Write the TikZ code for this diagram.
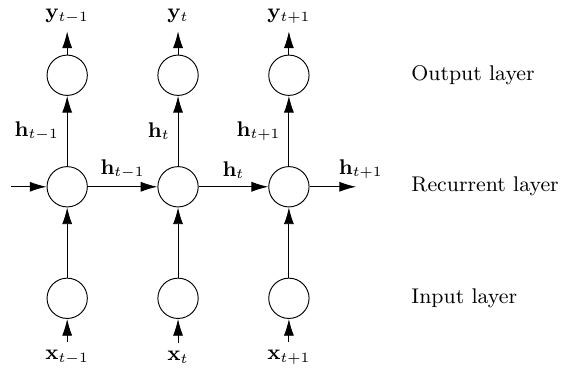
\documentclass[tikz,border=0pt]{standalone}
\usepackage{tikz}
\usetikzlibrary{arrows.meta,positioning}
\usepackage{amsmath}

\begin{document}
\begin{tikzpicture}[
  every node/.style={font=\small},
  unit/.style={draw,circle,minimum size=0.6cm,inner sep=0pt},
  conn/.style={-{Latex[length=2.5mm,width=1.5mm]}},
  layer/.style={anchor=west},
]
  \useasboundingbox (0,0) rectangle (8.35,5.57);

  % input layer
  \node[unit] (in1) at (1.0,1.13) {};
  \node[unit] (in2) at (2.65,1.13) {};
  \node[unit] (in3) at (4.3,1.13) {};
  \node (x1) at (1.0,0.25) {$\mathbf{x}_{t-1}$};
  \node (x2) at (2.65,0.25) {$\mathbf{x}_{t}$};
  \node (x3) at (4.3,0.25) {$\mathbf{x}_{t+1}$};

  % recurrent layer
  \node[unit] (rec1) at (1.0,2.79) {};
  \node[unit] (rec2) at (2.65,2.79) {};
  \node[unit] (rec3) at (4.3,2.79) {};
  \coordinate (hin) at (0.16,2.79);
  \coordinate (hout) at (5.3,2.79);

  % output layer
  \node[unit] (out1) at (1.0,4.45) {};
  \node[unit] (out2) at (2.65,4.45) {};
  \node[unit] (out3) at (4.3,4.45) {};
  \node (y1) at (1.0,5.33) {$\mathbf{y}_{t-1}$};
  \node (y2) at (2.65,5.33) {$\mathbf{y}_{t}$};
  \node (y3) at (4.3,5.33) {$\mathbf{y}_{t+1}$};

  \node[layer] (lout) at (6.0,4.45) {Output layer};
  \node[layer] (lrec) at (6.0,2.79) {Recurrent layer};
  \node[layer] (lin) at (6.0,1.13) {Input layer};

  % connections
  \draw[conn] (x1) -- (in1);
  \draw[conn] (x2) -- (in2);
  \draw[conn] (x3) -- (in3);
  \draw[conn] (in1) -- (rec1);
  \draw[conn] (in2) -- (rec2);
  \draw[conn] (in3) -- (rec3);
  \draw[conn] (rec1) -- node[left] {$\mathbf{h}_{t-1}$} (out1);
  \draw[conn] (rec2) -- node[left] {$\mathbf{h}_{t}$} (out2);
  \draw[conn] (rec3) -- node[left] {$\mathbf{h}_{t+1}$} (out3);
  \draw[conn] (out1) -- (y1);
  \draw[conn] (out2) -- (y2);
  \draw[conn] (out3) -- (y3);
  \draw[conn] (hin) -- (rec1);
  \draw[conn] (rec1) -- node[above] {$\mathbf{h}_{t-1}$} (rec2);
  \draw[conn] (rec2) -- node[above] {$\mathbf{h}_{t}$} (rec3);
  \draw[conn] (rec3) -- node[above right,pos=0.45] {$\mathbf{h}_{t+1}$} (hout);
\end{tikzpicture}
\end{document}
